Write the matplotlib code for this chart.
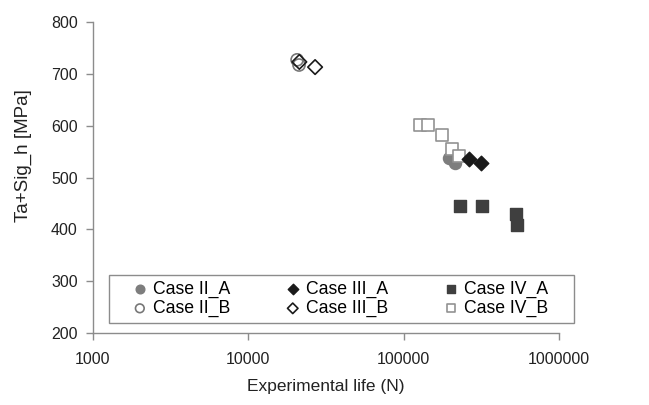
import numpy as np
import matplotlib
matplotlib.use('Agg')
import matplotlib.pyplot as plt
from matplotlib.patches import Rectangle

plt.rcParams['font.family'] = ['Liberation Sans', 'DejaVu Sans']

# ==================== 数据 ====================
case2_a_life = [197000, 215000]
case2_a_stress = [537, 528]
case2_b_life = [20600, 21200]
case2_b_stress = [727, 717]

case3_a_life = [264000, 316000]
case3_a_stress = [536, 528]
case3_b_life = [21300, 26900]
case3_b_stress = [723, 713]

case4_a_life = [231000, 320000, 531000, 538000]
case4_a_stress = [445, 445, 429, 408]
case4_b_life = [128000, 144000, 177000, 205000, 228000]
case4_b_stress = [601, 601, 582, 555, 541]

x_ticks = [1000, 10000, 100000, 1000000]
y_ticks = [200, 300, 400, 500, 600, 700, 800]

# ==================== 绘图 ====================
W, H = 649, 405
fig = plt.figure(figsize=(W / 100, H / 100), dpi=100)
ax = fig.add_axes([93 / W, (H - 333) / H, (559 - 93) / W, (333 - 22) / H])

ax.scatter(case2_a_life, case2_a_stress, marker='o', s=75, color='#7d7d7d',
           edgecolor='#7d7d7d', linewidth=1, label='Case II_A', zorder=3)
ax.scatter(case2_b_life, case2_b_stress, marker='o', s=75, facecolor='none',
           edgecolor='#777777', linewidth=1.2, label='Case II_B', zorder=3)
ax.scatter(case3_a_life, case3_a_stress, marker='D', s=55, color='#1a1a1a',
           edgecolor='#1a1a1a', linewidth=1, label='Case III_A', zorder=4)
ax.scatter(case3_b_life, case3_b_stress, marker='D', s=55, facecolor='none',
           edgecolor='#1a1a1a', linewidth=1.2, label='Case III_B', zorder=4)
ax.scatter(case4_a_life, case4_a_stress, marker='s', s=70, color='#3f3f3f',
           edgecolor='#3f3f3f', linewidth=1, label='Case IV_A', zorder=3)
ax.scatter(case4_b_life, case4_b_stress, marker='s', s=70, facecolor='white',
           edgecolor='#929292', linewidth=1.2, label='Case IV_B', zorder=3)

ax.set_xscale('log')
ax.set_xlim(1000, 1000000)
ax.set_ylim(200, 800)
ax.set_xticks(x_ticks)
ax.set_xticklabels([str(t) for t in x_ticks])
ax.minorticks_off()
ax.set_yticks(y_ticks)

for side in ['top', 'right']:
    ax.spines[side].set_visible(False)
for side in ['left', 'bottom']:
    ax.spines[side].set_color('#8c8c8c')
    ax.spines[side].set_linewidth(1)
ax.tick_params(axis='both', colors='#8c8c8c', labelcolor='#222222',
               labelsize=11.5, length=5, width=1, direction='out')
ax.tick_params(axis='x', pad=9)
ax.tick_params(axis='y', pad=6)

ax.set_xlabel('Experimental life (N)', fontsize=12.5, color='#222222', labelpad=8)
ax.set_ylabel('Ta+Sig_h [MPa]', fontsize=13.5, color='#222222')
ax.yaxis.set_label_coords(-0.131, 0.569)

# 图例：无边框图例 + 单独画外框
handles, labels = ax.get_legend_handles_labels()
leg = fig.legend(handles, labels, ncol=3, loc='upper left',
                 bbox_to_anchor=(131 / W, (H - 281) / H),
                 fontsize=12.7, frameon=False, borderpad=0, borderaxespad=0,
                 handletextpad=0.24, handlelength=1.0,
                 labelspacing=0.1, columnspacing=3.05, markerscale=0.72)
fig.patches.append(Rectangle((109 / W, (H - 323) / H), 465 / W, 48 / H,
                             transform=fig.transFigure, fill=False,
                             edgecolor='#8c8c8c', linewidth=1))

plt.savefig('out.png', dpi=100)
